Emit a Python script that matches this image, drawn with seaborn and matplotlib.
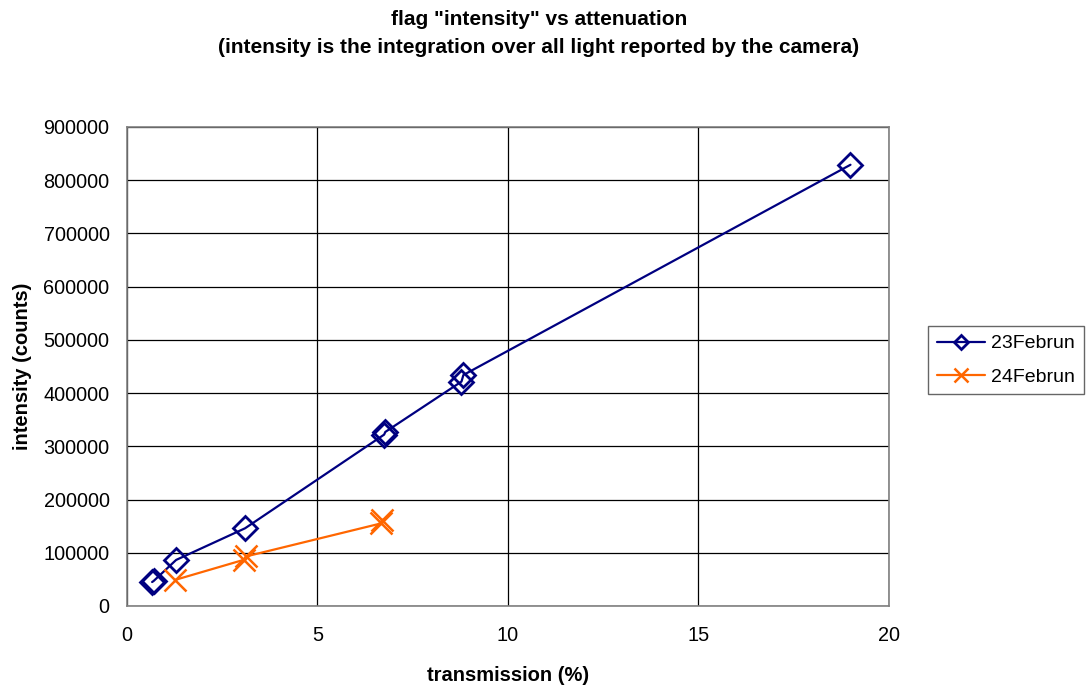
import matplotlib
matplotlib.use("Agg")
import matplotlib.pyplot as plt
import seaborn as sns
import pandas as pd

# 23Februn series (several repeat shots at the same attenuation)
feb23_x = [0.66, 0.70, 1.29, 3.10, 6.75, 6.78, 8.78, 8.83, 18.99]
feb23_y = [45000, 47000, 86500, 146000, 322000, 327000, 421600, 434000, 829000]

# 24Februn series
feb24_x = [1.26, 3.08, 3.12, 6.66, 6.70]
feb24_y = [48900, 87000, 93000, 155000, 162000]

x_ticks = [0, 5, 10, 15, 20]
y_ticks = [0, 100000, 200000, 300000, 400000, 500000, 600000, 700000, 800000, 900000]

sns.set_theme(style="white")
plt.rcParams['font.family'] = ['Liberation Sans', 'DejaVu Sans']
plt.rcParams['text.color'] = 'black'
plt.rcParams['axes.labelcolor'] = 'black'

df23 = pd.DataFrame({'x': feb23_x, 'y': feb23_y})
df24 = pd.DataFrame({'x': feb24_x, 'y': feb24_y})

fig = plt.figure(figsize=(10.89, 6.89), dpi=100)
ax = fig.add_axes([0.1166, 0.1205, 0.6997, 0.6952])

sns.lineplot(data=df23, x='x', y='y', ax=ax, color='#000080', lw=1.6,
             marker='D', markersize=12.5, markerfacecolor='none',
             markeredgecolor='#000080', markeredgewidth=2,
             estimator=None, label='23Februn', zorder=3)
sns.lineplot(data=df24, x='x', y='y', ax=ax, color='#FF6600', lw=1.6,
             marker='x', markersize=16, markeredgecolor='#FF6600',
             markeredgewidth=1.8, estimator=None, label='24Februn', zorder=3)

ax.set_xlim(0, 20)
ax.set_ylim(0, 900000)
ax.set_xticks(x_ticks)
ax.set_yticks(y_ticks)
ax.set_xticklabels([str(t) for t in x_ticks])
ax.set_yticklabels([str(t) for t in y_ticks])
ax.grid(True, color='black', lw=0.9)
ax.set_axisbelow(True)
for s in ax.spines.values():
    s.set_color('#808080')
    s.set_linewidth(1.2)
ax.tick_params(axis='both', direction='inout', length=7, width=1,
               color='black', labelsize=14.3, labelcolor='black')
ax.tick_params(axis='y', pad=9)
ax.tick_params(axis='x', pad=11)

ax.set_xlabel('transmission (%)', fontsize=14.5, fontweight='bold', labelpad=15)
ax.set_ylabel('intensity (counts)', fontsize=14.5, fontweight='bold', labelpad=8)

fig.text(0.495, 0.985, 'flag "intensity" vs attenuation\n'
         '(intensity is the integration over all light reported by the camera)',
         ha='center', va='top', fontsize=15, fontweight='bold', linespacing=1.57)

leg = ax.legend(loc='upper left', bbox_to_anchor=(928 / 1089, 1 - 326 / 689),
                bbox_transform=fig.transFigure, borderaxespad=0, fontsize=14,
                frameon=True, fancybox=False, edgecolor='#404040',
                handlelength=2.5, handletextpad=0.3, borderpad=0.45,
                labelspacing=0.8, markerscale=0.6)
leg.get_frame().set_linewidth(1)

fig.savefig('out.png', dpi=100)
